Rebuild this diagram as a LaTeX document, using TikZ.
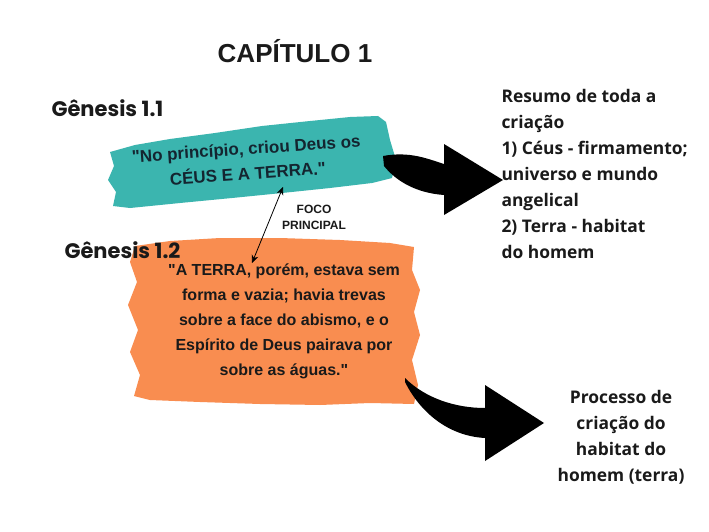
\documentclass[tikz,border=0pt]{standalone}
\usepackage{fontspec}
\setmainfont{Liberation Sans}[Ligatures=TeXOff]
\newfontfamily\genfont{Poppins}
\newfontfamily\resfont{Open Sans}
\usetikzlibrary{arrows.meta,positioning,calc}
\definecolor{Teal}{HTML}{3BB5AF}
\definecolor{Laranja}{HTML}{F98D50}
\definecolor{Tinta}{HTML}{1A1A1A}
\definecolor{TintaAzul}{HTML}{142530}

\begin{document}
\begin{tikzpicture}[x=1pt,y=-1pt,
    titulo/.style={font=\bfseries\fontsize{26}{30}\selectfont,text=Tinta},
    versiculo/.style={font=\genfont\bfseries\fontsize{21}{24}\selectfont,text=Tinta,anchor=west},
    citacao/.style={align=center,font=\bfseries\fontsize{16}{25}\selectfont,text=Tinta},
    resumo/.style={font=\resfont\bfseries\fontsize{17.4}{26}\selectfont,text=Tinta},
    nota/.style={align=center,font=\bfseries\fontsize{12}{16}\selectfont,text=Tinta},
    seta/.style={fill=black,draw=none},
    duplaseta/.style={{Stealth[length=8pt,width=7pt]}-{Stealth[length=8pt,width=7pt]},thick}
]
\useasboundingbox[fill=white] (0,0) rectangle (709,532);

% manchas de pincel
\fill[Teal] (110,152) -- (135,145) -- (170,139) -- (215,133) -- (262,126) -- (310,121)
  -- (350,117) -- (378,116) -- (386,122) -- (390,140) -- (396,160) -- (392,178)
  -- (372,183) -- (330,188) -- (282,193) -- (232,198) -- (180,203) -- (130,208)
  -- (113,206) -- (116,192) -- (108,180) -- (114,166) -- cycle;
\fill[Laranja] (135,246) -- (170,241) -- (220,238) -- (280,238) -- (340,240)
  -- (390,243) -- (414,247) -- (412,270) -- (420,290) -- (414,312) -- (420,335)
  -- (412,360) -- (418,385) -- (414,404) -- (370,403) -- (320,405) -- (260,404)
  -- (200,402) -- (150,400) -- (134,396) -- (140,375) -- (130,352) -- (138,330)
  -- (128,305) -- (137,282) -- (130,262) -- cycle;

% textos
\node[titulo] (cap) at (295,51) {CAPÍTULO 1};
\node[versiculo] (gen1) at (48,108) {Gênesis 1.1};
\node[versiculo] (gen2) at (61,250) {Gênesis 1.2};
\node[citacao,font=\bfseries\fontsize{17}{25}\selectfont,text=TintaAzul,rotate=4] (ceus) at (247,161)
  {"No princípio, criou Deus os\\CÉUS E A TERRA."};
\node[citacao] (terra) at (284,321)
  {"A TERRA, porém, estava sem\\forma e vazia; havia trevas\\sobre a face do abismo, e o\\Espírito de Deus pairava por\\sobre as águas."};
\node[nota] (foco) at (314,217) {FOCO\\PRINCIPAL};
\node[resumo,align=left,anchor=north west] (res) at (498,86)
  {Resumo de toda a\\criação\\1) Céus - firmamento;\\universo e mundo\\angelical\\2) Terra - habitat\\do homem};
\node[resumo,align=center] (proc) at (621,437)
  {Processo de\\criação do\\habitat do\\homem (terra)};

% seta dupla
\coordinate (fcima) at (283,187);
\coordinate (fbaixo) at (252,263);
\draw[duplaseta] (fcima) -- (fbaixo);

% setas curvas
\fill[seta] (383,156) .. controls (410,151) and (428,159) .. (444,164)
  -- (444,144) -- (503,180) -- (444,215) -- (444,195)
  .. controls (416,193) and (396,181) .. (384,166) -- cycle;
\fill[seta] (405,378) .. controls (425,398) and (455,408) .. (485,408)
  -- (485,385) -- (544,423) -- (485,461) -- (485,438)
  .. controls (448,436) and (420,412) .. (405,382) -- cycle;
\end{tikzpicture}
\end{document}
